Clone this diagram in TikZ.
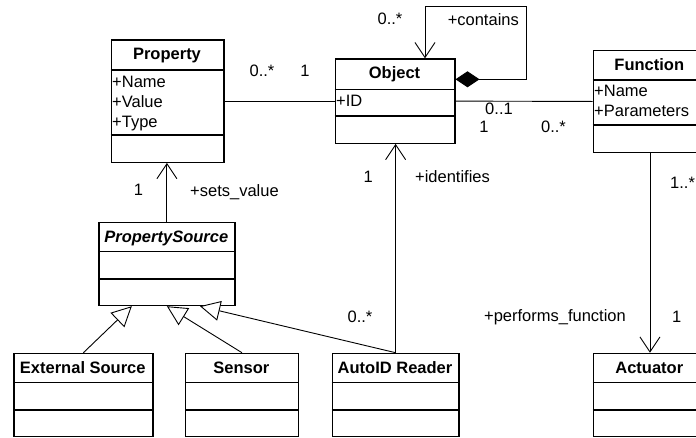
\documentclass[tikz,border=0pt]{standalone}
\usepackage{fontspec}
\setmainfont{Liberation Sans}
\usetikzlibrary{arrows.meta,calc}
\begin{document}
\begin{tikzpicture}[x=1pt,y=-1pt,
  box/.style={draw, line width=1.2pt, rectangle, inner sep=0pt, anchor=north west},
  sepl/.style={line width=1.2pt},
  conn/.style={line width=0.9pt},
  lbl/.style={font=\fontsize{16.5}{20}\selectfont, inner sep=0pt},
  ttl/.style={font=\fontsize{16.5}{20}\selectfont\bfseries, inner sep=0pt, anchor=base},
  attr/.style={font=\fontsize{16.5}{20}\selectfont, inner sep=0pt, anchor=base west},
  nav/.style={-{Straight Barb[length=15pt,width=20pt]}},
  gen/.style={-{Triangle[open,length=20pt,width=20pt,fill=white]}},
]
\clip (0,0) rectangle (696,437);

% ---- classes ----
\node[box, minimum width=112.6pt, minimum height=122.4pt] (prop) at (110.7,39.3) {};
\draw[sepl] (prop.west |- 0,70) -- (prop.east |- 0,70);
\draw[sepl] (prop.west |- 0,135) -- (prop.east |- 0,135);
\node[ttl] (propT) at (167,59.5) {Property};
\node[attr] (propA1) at (112,87.3) {+Name};
\node[attr] (propA2) at (112,107.3) {+Value};
\node[attr] (propA3) at (112,127.3) {+Type};

\node[box, minimum width=119.6pt, minimum height=84.4pt] (obj) at (334.7,58.3) {};
\draw[sepl] (obj.west |- 0,89.3) -- (obj.east |- 0,89.3);
\draw[sepl] (obj.west |- 0,116) -- (obj.east |- 0,116);
\node[ttl] (objT) at (394.5,78.8) {Object};
\node[attr] (objA1) at (336,106) {+ID};

\node[box, minimum width=113.3pt, minimum height=101.7pt] (func) at (592.7,50) {};
\draw[sepl] (func.west |- 0,80) -- (func.east |- 0,80);
\draw[sepl] (func.west |- 0,125) -- (func.east |- 0,125);
\node[ttl] (funcT) at (649.3,70.8) {Function};
\node[attr] (funcA1) at (594,96.7) {+Name};
\node[attr] (funcA2) at (594,116.7) {+Parameters};

\node[box, minimum width=136pt, minimum height=83.3pt] (ps) at (98.3,221.7) {};
\draw[sepl] (ps.west |- 0,251.7) -- (ps.east |- 0,251.7);
\draw[sepl] (ps.west |- 0,279) -- (ps.east |- 0,279);
\node[ttl, font=\fontsize{16.5}{20}\selectfont\bfseries\itshape] (psT) at (166.3,242.3) {PropertySource};

\node[box, minimum width=139pt, minimum height=83.3pt] (ext) at (13.3,352.7) {};
\node[box, minimum width=112.7pt, minimum height=83.3pt] (sens) at (185,352.7) {};
\node[box, minimum width=126.6pt, minimum height=83.3pt] (auto) at (331.7,352.7) {};
\node[box, minimum width=113.3pt, minimum height=83.3pt] (act) at (592.7,352.7) {};
\foreach \b in {ext,sens,auto,act}{
  \draw[sepl] (\b.west |- 0,382.7) -- (\b.east |- 0,382.7);
  \draw[sepl] (\b.west |- 0,410) -- (\b.east |- 0,410);
}
\node[ttl] (extT) at (82.8,373.3) {External Source};
\node[ttl] (sensT) at (241.3,373.3) {Sensor};
\node[ttl] (autoT) at (395,373.3) {AutoID Reader};
\node[ttl] (actT) at (649.3,373.3) {Actuator};

% ---- connectors ----
\draw[conn] (prop.east) -- (obj.west);
\draw[conn] (obj.east) -- (func.west);

\coordinate (dstart) at ($(obj.north east)+(0,21)$);
\coordinate (c1) at (526,79.3);
\coordinate (c2) at (526,6);
\coordinate (c3) at (425,6);
\coordinate (objtop) at (obj.north -| c3);
\draw[conn, {Diamond[length=24pt,width=16pt]}-{Straight Barb[length=15pt,width=20pt]}]
  (dstart) -- (c1) -- (c2) -- (c3) -- (objtop);

\draw[conn, nav] (ps.north) -- (ps.north |- prop.south);
\draw[conn, nav] (auto.north) -- (auto.north |- obj.south);
\draw[conn, nav] (func.south) -- (act.north);

\coordinate (g1) at ($(ps.south west)+(33.5,0)$);
\coordinate (g3) at ($(ps.south west)+(101.7,0)$);
\draw[conn, gen] (ext.north) -- (g1);
\draw[conn, gen] (sens.north) -- (ps.south);
\draw[conn, gen] (auto.north) -- (g3);

% ---- labels ----
\node[lbl] (m1) at (262,70.7) {0..*};
\node[lbl] (m2) at (305,70.7) {1};
\node[lbl] (m3) at (390,19) {0..*};
\node[lbl] (r1) at (483.3,19.3) {+contains};
\node[lbl] (m4) at (499,109) {0..1};
\node[lbl] (m5) at (484,127.3) {1};
\node[lbl] (m6) at (553.5,127.3) {0..*};
\node[lbl] (m7) at (138.5,190) {1};
\node[lbl] (r2) at (234.5,192) {+sets\_value};
\node[lbl] (m8) at (368.3,177) {1};
\node[lbl] (r3) at (452.5,177) {+identifies};
\node[lbl, anchor=west] (m9) at (670,183) {1..*};
\node[lbl] (m10) at (360,316.7) {0..*};
\node[lbl] (r4) at (555,317) {+performs\_function};
\node[lbl] (m11) at (676.7,316.7) {1};
\end{tikzpicture}
\end{document}
